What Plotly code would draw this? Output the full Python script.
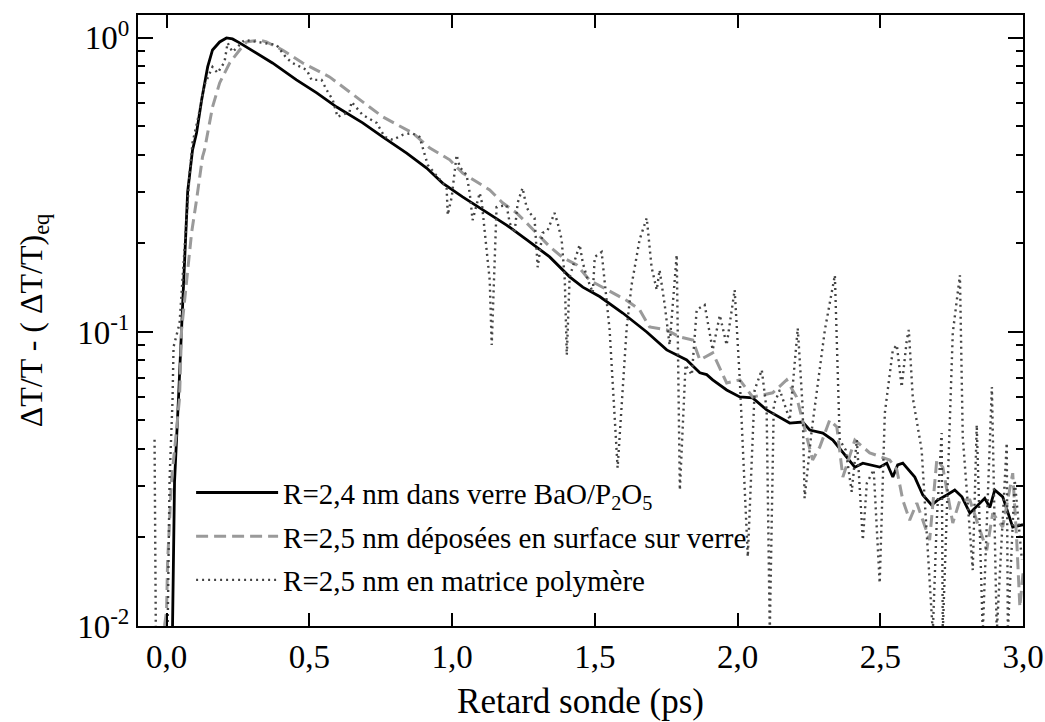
import plotly.graph_objects as go

# ---- data ----
x_bao = [0.021, 0.028, 0.042, 0.053, 0.063, 0.074, 0.091, 0.105, 0.123, 0.144, 0.161, 0.186, 0.210, 0.231,
         0.256, 0.315, 0.371, 0.455, 0.526, 0.596, 0.687, 0.757, 0.841, 0.911, 0.967, 1.037, 1.121, 1.191,
         1.261, 1.342, 1.412, 1.458, 1.517, 1.598, 1.682, 1.752, 1.822, 1.868, 1.892, 1.913, 1.962, 2.008,
         2.053, 2.102, 2.183, 2.228, 2.253, 2.299, 2.334, 2.369, 2.411, 2.439, 2.498, 2.523, 2.544, 2.561,
         2.579, 2.621, 2.649, 2.680, 2.701, 2.733, 2.761, 2.786, 2.814, 2.866, 2.884, 2.901, 2.929, 2.964, 3.0]
y_bao = [0.0100, 0.031, 0.060, 0.102, 0.180, 0.300, 0.416, 0.475, 0.616, 0.797, 0.910, 0.969, 1.000, 0.992,
         0.962, 0.889, 0.822, 0.720, 0.650, 0.582, 0.514, 0.461, 0.406, 0.361, 0.321, 0.288, 0.256, 0.231,
         0.206, 0.180, 0.154, 0.142, 0.132, 0.116, 0.100, 0.0869, 0.0803, 0.0726, 0.0716, 0.0687, 0.0635, 0.0601,
         0.0597, 0.0543, 0.0490, 0.0494, 0.0464, 0.0453, 0.0429, 0.0388, 0.0347, 0.0358, 0.0347, 0.0358, 0.0321, 0.0353,
         0.0358, 0.0321, 0.0279, 0.0258, 0.0268, 0.0279, 0.0290, 0.0275, 0.0242, 0.0272, 0.0253, 0.0290, 0.0275, 0.0217, 0.0221]

x_surf = [-0.05, -0.042, -0.03, 0.0, 0.0035, 0.0175, 0.035, 0.0455, 0.0526, 0.070, 0.0876, 0.105, 0.109, 0.126,
          0.133, 0.161, 0.186, 0.221, 0.256, 0.280, 0.326, 0.350, 0.406, 0.477, 0.571, 0.666, 0.757, 0.862,
          0.921, 0.992, 1.037, 1.086, 1.132, 1.177, 1.226, 1.261, 1.296, 1.342, 1.388, 1.437, 1.482, 1.542,
          1.612, 1.657, 1.692, 1.752, 1.797, 1.843, 1.868, 1.913, 1.962, 2.008, 2.053, 2.123, 2.172, 2.207,
          2.263, 2.288, 2.323, 2.348, 2.369, 2.411, 2.463, 2.533, 2.558, 2.579, 2.603, 2.628, 2.673, 2.698,
          2.719, 2.754, 2.779, 2.814, 2.873, 2.894, 2.929, 2.964, 2.978, 2.989, 3.0]
y_surf = [0.006, 0.0095, 0.007, 0.0112, 0.0164, 0.0314, 0.0464, 0.0597, 0.1016, 0.147, 0.217, 0.281, 0.300, 0.394,
          0.416, 0.582, 0.703, 0.822, 0.910, 0.969, 0.984, 0.969, 0.910, 0.822, 0.737, 0.630, 0.539, 0.475,
          0.423, 0.385, 0.347, 0.324, 0.304, 0.275, 0.254, 0.235, 0.217, 0.195, 0.179, 0.169, 0.150, 0.139,
          0.128, 0.119, 0.104, 0.1016, 0.0962, 0.0939, 0.0803, 0.0849, 0.0671, 0.0687, 0.0601, 0.0621, 0.0687, 0.0601,
          0.0367, 0.0406, 0.0502, 0.0475, 0.0321, 0.0429, 0.0388, 0.0367, 0.0340, 0.0268, 0.0229, 0.0262, 0.0196, 0.0367,
          0.0347, 0.0224, 0.0268, 0.0268, 0.0181, 0.0242, 0.0217, 0.0331, 0.0196, 0.0116, 0.0151]

x_poly = [-0.042, -0.035, 0.0, 0.0105, 0.021, 0.0245, 0.0455, 0.056, 0.070, 0.081, 0.091, 0.109, 0.133, 0.161,
          0.179, 0.203, 0.214, 0.231, 0.273, 0.326, 0.385, 0.420, 0.441, 0.491, 0.508, 0.543, 0.561, 0.582,
          0.599, 0.641, 0.648, 0.687, 0.736, 0.764, 0.792, 0.827, 0.858, 0.886, 0.904, 0.915, 0.981, 0.985,
          0.999, 1.016, 1.027, 1.051, 1.062, 1.072, 1.097, 1.104, 1.114, 1.132, 1.139, 1.149, 1.156, 1.191,
          1.202, 1.219, 1.230, 1.247, 1.261, 1.272, 1.289, 1.300, 1.317, 1.335, 1.359, 1.370, 1.384, 1.395,
          1.402, 1.412, 1.423, 1.447, 1.458, 1.472, 1.493, 1.500, 1.524, 1.552, 1.580, 1.612, 1.629, 1.657,
          1.682, 1.699, 1.717, 1.727, 1.745, 1.762, 1.787, 1.798, 1.818, 1.840, 1.857, 1.885, 1.913, 1.938,
          1.962, 1.990, 2.008, 2.036, 2.060, 2.085, 2.102, 2.113, 2.127, 2.148, 2.183, 2.211, 2.228, 2.235,
          2.260, 2.306, 2.341, 2.358, 2.379, 2.400, 2.418, 2.439, 2.453, 2.477, 2.498, 2.516, 2.544, 2.558,
          2.575, 2.593, 2.600, 2.614, 2.645, 2.684, 2.698, 2.715, 2.719, 2.754, 2.779, 2.789, 2.824, 2.838,
          2.859, 2.891, 2.908, 2.943, 2.947, 2.971, 2.996]
y_poly = [0.043, 0.004, 0.005, 0.0314, 0.0587, 0.0889, 0.107, 0.154, 0.246, 0.347, 0.44, 0.526, 0.692, 0.797,
          0.760, 0.829, 0.962, 0.896, 0.984, 0.969, 0.947, 0.855, 0.822, 0.778, 0.720, 0.720, 0.665, 0.616,
          0.539, 0.560, 0.606, 0.547, 0.514, 0.461, 0.450, 0.468, 0.475, 0.461, 0.400, 0.370, 0.309, 0.250,
          0.288, 0.400, 0.364, 0.342, 0.297, 0.240, 0.297, 0.277, 0.222, 0.150, 0.0903, 0.172, 0.266, 0.270,
          0.235, 0.217, 0.275, 0.309, 0.266, 0.254, 0.244, 0.166, 0.217, 0.222, 0.254, 0.235, 0.206, 0.150,
          0.0835, 0.154, 0.166, 0.198, 0.172, 0.154, 0.136, 0.180, 0.187, 0.1016, 0.0345, 0.104, 0.1445, 0.206,
          0.244, 0.166, 0.139, 0.1625, 0.1236, 0.0903, 0.183, 0.0290, 0.0773, 0.0714, 0.119, 0.1236, 0.0869, 0.114,
          0.0903, 0.139, 0.0687, 0.0172, 0.0635, 0.0743, 0.0543, 0.0095, 0.0565, 0.0635, 0.0502, 0.103, 0.0556, 0.0272,
          0.0464, 0.1016, 0.156, 0.0429, 0.0397, 0.0286, 0.0429, 0.0196, 0.0306, 0.0340, 0.0140, 0.0530, 0.0869, 0.0903,
          0.0650, 0.0939, 0.1016, 0.0597, 0.0397, 0.0095, 0.0229, 0.0453, 0.0095, 0.0992, 0.156, 0.0439, 0.0155, 0.0483,
          0.0095, 0.0650, 0.0095, 0.0419, 0.0095, 0.0314, 0.0168]

names = ["R=2,4 nm dans verre BaO/P<sub>2</sub>O<sub>5</sub>",
         "R=2,5 nm déposées en surface sur verre",
         "R=2,5 nm en matrice polymère"]

x_ticks = [0.0, 0.5, 1.0, 1.5, 2.0, 2.5, 3.0]
y_tickvals = [0.01, 0.1, 1]
y_ticktext = ["10<sup>-2</sup>", "10<sup>-1</sup>", "10<sup>0</sup>"]
y_minor = [0.02, 0.03, 0.04, 0.05, 0.06, 0.07, 0.08, 0.09,
           0.2, 0.3, 0.4, 0.5, 0.6, 0.7, 0.8, 0.9]

FONT = "Times New Roman, Liberation Serif, DejaVu Serif, serif"

fig = go.Figure()
fig.add_trace(go.Scatter(x=x_bao, y=y_bao, mode="lines", name=names[0], legendgroup="a",
                         line=dict(color="black", width=2.8)))
fig.add_trace(go.Scatter(x=x_surf, y=y_surf, mode="lines", name=names[1], legendgroup="b",
                         line=dict(color="#9a9a9a", width=3, dash="12px,6px")))
fig.add_trace(go.Scatter(x=x_poly, y=y_poly, mode="lines", name=names[2], legendgroup="c",
                         line=dict(color="#444444", width=2.4, dash="2px,4px")))

axis_common = dict(showline=True, linecolor="black", linewidth=2, mirror="allticks",
                   ticks="inside", tickcolor="black", tickwidth=2, showgrid=False, zeroline=False,
                   tickfont=dict(family=FONT, size=33, color="black"))

fig.update_xaxes(range=[-0.1, 3.0], tickvals=x_ticks, tickformat=".1f", ticklen=13,
                 title=dict(text="Retard sonde (ps)", font=dict(family=FONT, size=35, color="black"), standoff=15),
                 **axis_common)
fig.update_yaxes(type="log", range=[-2, 0.078], tickvals=y_tickvals, ticktext=y_ticktext, ticklen=15,
                 minor=dict(tickvals=y_minor, ticks="inside", ticklen=7, tickwidth=2, tickcolor="black",
                            showgrid=False),
                 title=dict(text="ΔT/T - ( ΔT/T)<sub>eq</sub>", font=dict(family=FONT, size=32, color="black"), standoff=25),
                 **axis_common)

fig.update_layout(
    width=1045, height=722,
    margin=dict(l=138, r=22, t=15, b=96, autoexpand=False),
    paper_bgcolor="white", plot_bgcolor="white",
    separators=", ",
    font=dict(family=FONT, color="black"),
    legend=dict(x=0.060, y=0.26, xanchor="left", yanchor="top", bgcolor="rgba(0,0,0,0)",
                font=dict(family=FONT, size=29, color="black"), tracegroupgap=3, itemwidth=82),
)

fig.write_html("out.html", config={"displayModeBar": False},
               post_script="document.body.style.margin='0px';")
